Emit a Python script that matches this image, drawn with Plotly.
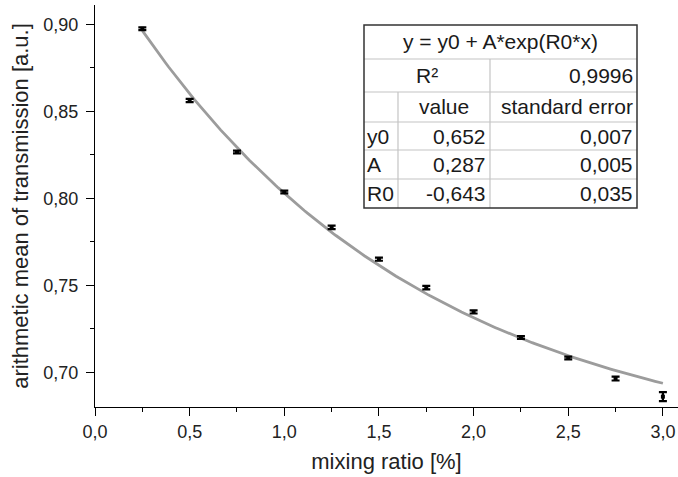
import numpy as np
import plotly.graph_objects as go

# ---- data ----
mixing_ratio = [0.25, 0.5, 0.75, 1.0, 1.25, 1.5, 1.75, 2.0, 2.25, 2.5, 2.75, 3.0]
transmission = [0.8974, 0.8562, 0.8266, 0.8036, 0.7833, 0.7650, 0.7487, 0.7347, 0.7200, 0.7082, 0.6964, 0.6860]
trans_error = [0.0008, 0.0009, 0.0008, 0.0008, 0.0010, 0.0009, 0.0010, 0.0009, 0.0008, 0.0008, 0.0011, 0.0026]

# fit parameters as printed in the table
fit_names = ["y0", "A", "R0"]
fit_values = [0.652, 0.287, -0.643]
fit_errors = [0.007, 0.005, 0.035]
r_squared = 0.9996
fit_xmin, fit_xmax = 0.25, 3.0

x_ticks = [0.0, 0.5, 1.0, 1.5, 2.0, 2.5, 3.0]
y_ticks = [0.70, 0.75, 0.80, 0.85, 0.90]

W, H = 678, 477
ML, MR, MT, MB = 95, 0, 5, 70
PW, PH = W - ML - MR, H - MT - MB

FONT = "Liberation Sans, Arial, Helvetica, sans-serif"


def fmt(v, nd):
    return f"{v:.{nd}f}".replace(".", ",")


y0, A, R0 = fit_values
xf = np.linspace(fit_xmin, fit_xmax, 200)
yf = y0 + A * np.exp(R0 * xf)

fig = go.Figure()
fig.add_trace(go.Scatter(x=xf, y=yf, mode="lines",
                         line=dict(color="#9c9c9c", width=2.8),
                         showlegend=False, hoverinfo="skip"))
fig.add_trace(go.Scatter(x=mixing_ratio, y=transmission, mode="markers",
                         marker=dict(symbol="square", size=4, color="black"),
                         error_y=dict(type="data", array=trans_error, visible=True,
                                      color="black", thickness=2.2, width=4),
                         showlegend=False))

axis_common = dict(showgrid=False, zeroline=False, showline=True, linecolor="black",
                   linewidth=1.3, ticks="outside", ticklen=8, tickwidth=1.3, tickcolor="black",
                   tickfont=dict(family=FONT, size=18, color="#222"),
                   title_font=dict(family=FONT, size=22, color="#222"))

fig.update_xaxes(range=[0, PW / 189.3], tickvals=x_ticks, tickformat=".1f",
                 minor=dict(dtick=0.25, tick0=0, ticks="outside", ticklen=4,
                            tickwidth=1.3, tickcolor="black"),
                 title_text="mixing ratio [%]", title_standoff=12, **axis_common)
fig.update_yaxes(range=[0.70 - 34.7 / 1740, 0.70 - 34.7 / 1740 + PH / 1740],
                 tickvals=y_ticks, tickformat=".2f", ticklabelstandoff=4,
                 minor=dict(dtick=0.025, tick0=0.7, ticks="outside", ticklen=4,
                            tickwidth=1.3, tickcolor="black"),
                 title_text="arithmetic mean of transmission [a.u.]", title_standoff=8,
                 **axis_common)

# ---- fit result table (pixel layout converted to paper coordinates) ----
def px(xp):
    return (xp - ML) / PW


def py(yp):
    return (H - MB - yp) / PH


cols = [364, 398, 490, 637]
rows = [25, 59, 92, 122, 150, 179, 208]
shapes = []
inner = dict(color="#c4c4c4", width=1.2)
for r in rows[1:-1]:
    shapes.append(dict(type="line", xref="paper", yref="paper", x0=px(cols[0]), x1=px(cols[3]),
                       y0=py(r), y1=py(r), line=inner))
shapes.append(dict(type="line", xref="paper", yref="paper", x0=px(cols[1]), x1=px(cols[1]),
                   y0=py(rows[2]), y1=py(rows[-1]), line=inner))
shapes.append(dict(type="line", xref="paper", yref="paper", x0=px(cols[2]), x1=px(cols[2]),
                   y0=py(rows[1]), y1=py(rows[-1]), line=inner))
shapes.append(dict(type="rect", xref="paper", yref="paper", x0=px(cols[0]), x1=px(cols[3]),
                   y0=py(rows[0]), y1=py(rows[-1]), line=dict(color="#333333", width=1.5)))

annots = []


def cell(text, c0, c1, r, align):
    ymid = (rows[r] + rows[r + 1]) / 2
    if align == "center":
        x, xa = (cols[c0] + cols[c1]) / 2, "center"
    elif align == "right":
        x, xa = cols[c1] - 2, "right"
    else:
        x, xa = cols[c0] + 1, "left"
    annots.append(dict(text=text, xref="paper", yref="paper", x=px(x), y=py(ymid),
                       xanchor=xa, yanchor="middle", showarrow=False,
                       font=dict(family=FONT, size=21, color="#1a1a1a")))


cell("y = y0 + A*exp(R0*x)", 0, 3, 0, "center")
cell("R²", 0, 2, 1, "center")
cell(fmt(r_squared, 4), 2, 3, 1, "right")
cell("value", 1, 2, 2, "center")
cell("standard error", 2, 3, 2, "right")
for i, (n, v, e) in enumerate(zip(fit_names, fit_values, fit_errors)):
    cell(n, 0, 1, 3 + i, "left")
    cell(fmt(v, 3), 1, 2, 3 + i, "right")
    cell(fmt(e, 3), 2, 3, 3 + i, "right")

fig.update_layout(width=W, height=H, margin=dict(l=ML, r=MR, t=MT, b=MB),
                  paper_bgcolor="white", plot_bgcolor="white", separators=", ",
                  shapes=shapes, annotations=annots, showlegend=False)

fig.write_html("out.html")
